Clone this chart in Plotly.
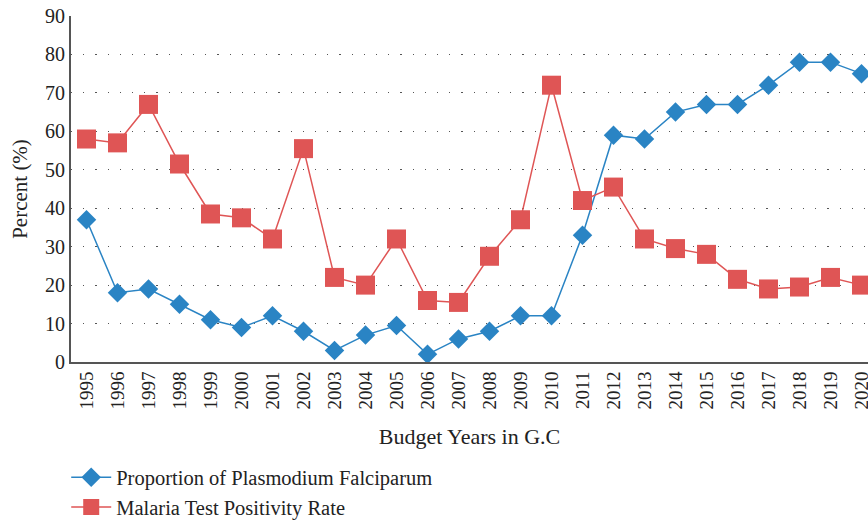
import plotly.graph_objects as go

years = [str(y) for y in range(1995, 2021)]
pf = [37, 18, 19, 15, 11, 9, 12, 8, 3, 7, 9.5, 2, 6, 8, 12, 12, 33, 59, 58, 65, 67, 67, 72, 78, 78, 75]
tpr = [58, 57, 67, 51.5, 38.5, 37.5, 32, 55.5, 22, 20, 32, 16, 15.5, 27.5, 37, 72, 42, 45.5, 32, 29.5, 28, 21.5, 19, 19.5, 22, 20]
y_ticks = [0, 10, 20, 30, 40, 50, 60, 70, 80, 90]

FONT = "Liberation Serif"
BLUE = "#2a84c4"
RED = "#df5555"

fig = go.Figure()
fig.add_trace(go.Scatter(
    x=years, y=pf, mode="lines+markers", name="Proportion of Plasmodium Falciparum",
    line=dict(color=BLUE, width=1.5),
    marker=dict(symbol="diamond", size=15, color=BLUE),
))
fig.add_trace(go.Scatter(
    x=years, y=tpr, mode="lines+markers", name="Malaria Test Positivity Rate",
    line=dict(color=RED, width=1.5),
    marker=dict(symbol="square", size=19, color=RED),
))

fig.update_layout(
    width=868, height=520,
    margin=dict(l=71, r=0, t=16, b=158, autoexpand=False),
    paper_bgcolor="white", plot_bgcolor="white",
    font=dict(family=FONT, size=19, color="#222"),
    showlegend=True,
    legend=dict(orientation="v", x=-0.006, y=-0.276, xanchor="left", yanchor="top",
                font=dict(family=FONT, size=20.5, color="#222"), tracegroupgap=0,
                itemwidth=40),
    xaxis=dict(
        type="category", range=[-0.5, 25.21], automargin=False,
        tickangle=-90, tickfont=dict(family=FONT, size=19),
        showgrid=False, showline=True, linecolor="#555", linewidth=2,
        ticks="", title=dict(text="Budget Years in G.C", font=dict(family=FONT, size=22), standoff=20),
    ),
    yaxis=dict(
        range=[0, 90], tickvals=y_ticks, ticktext=[str(v) for v in y_ticks],
        tickfont=dict(family=FONT, size=20), automargin=False,
        showgrid=True, gridcolor="#555", gridwidth=1.2, griddash="1.2px,11px",
        showline=True, linecolor="#555", linewidth=2, zeroline=False,
        ticks="", title=dict(text="Percent (%)", font=dict(family=FONT, size=21), standoff=12),
    ),
)

fig.write_html("out.html", config={"displayModeBar": False},
               post_script="document.body.style.margin='0px';document.body.style.overflow='hidden';")
